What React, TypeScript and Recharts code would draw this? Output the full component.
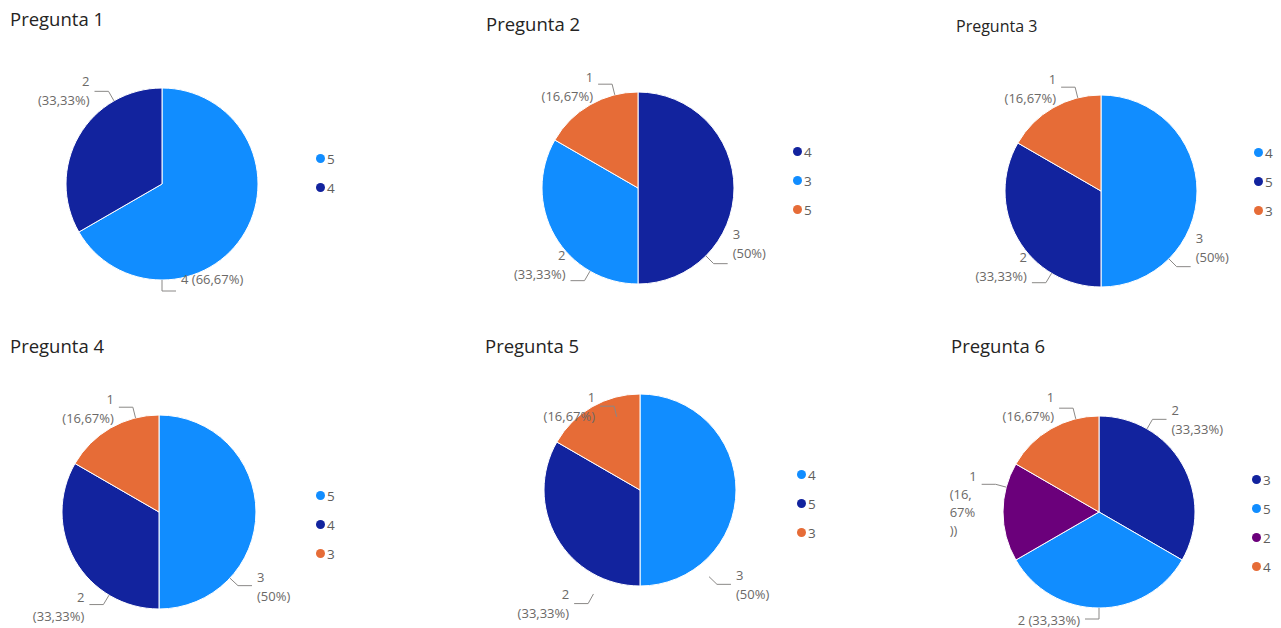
import React from 'react'
import { PieChart, Pie, Cell } from 'recharts'

// survey answers: category (legend name) and count per question
const q1Names = ['5', '4']
const q1Values = [4, 2]
const q2Names = ['4', '3', '5']
const q2Values = [3, 2, 1]
const q3Names = ['4', '5', '3']
const q3Values = [3, 2, 1]
const q4Names = ['5', '4', '3']
const q4Values = [3, 2, 1]
const q5Names = ['4', '5', '3']
const q5Values = [3, 2, 1]
const q6Names = ['3', '5', '2', '4']
const q6Values = [2, 2, 1, 1]

const BLUE = '#118DFF'
const NAVY = '#12239E'
const ORANGE = '#E66C37'
const PURPLE = '#6B007B'
const FONT = '"Open Sans", "Noto Sans", sans-serif'

type LabelPos = { a: number; side: 1 | -1; dy: number; wrap: 'one' | 'two' | 'narrow' }
type Panel = {
  title: string
  names: string[]
  values: number[]
  colors: string[]
  left: number
  top: number
  titleX: number
  titleY: number
  titleSize: number
  cx: number
  cy: number
  r: number
  legendX: number
  legendY: number
  labelShift: number
  labels: LabelPos[]
}

const panels: Panel[] = [
  {
    title: 'Pregunta 1', names: q1Names, values: q1Values, colors: [BLUE, NAVY],
    left: 0, top: 0, titleX: 10, titleY: 9.5, titleSize: 18.5, cx: 162, cy: 184, r: 96,
    legendX: 316, legendY: 144, labelShift: 0,
    labels: [
      { a: 180, side: 1, dy: -12, wrap: 'one' },
      { a: 330, side: -1, dy: 0, wrap: 'two' },
    ],
  },
  {
    title: 'Pregunta 2', names: q2Names, values: q2Values, colors: [NAVY, BLUE, ORANGE],
    left: 470, top: 0, titleX: 16, titleY: 14.5, titleSize: 18.5, cx: 168, cy: 188, r: 96,
    legendX: 323, legendY: 137, labelShift: 0,
    labels: [
      { a: 135, side: 1, dy: -20, wrap: 'two' },
      { a: 210, side: -1, dy: -16, wrap: 'two' },
      { a: 346, side: -1, dy: 3, wrap: 'two' },
    ],
  },
  {
    title: 'Pregunta 3', names: q3Names, values: q3Values, colors: [BLUE, NAVY, ORANGE],
    left: 940, top: 0, titleX: 16, titleY: 17.5, titleSize: 16, cx: 161, cy: 191, r: 96,
    legendX: 314, legendY: 138, labelShift: 0,
    labels: [
      { a: 135, side: 1, dy: -19, wrap: 'two' },
      { a: 211, side: -1, dy: -16, wrap: 'two' },
      { a: 346, side: -1, dy: 2, wrap: 'two' },
    ],
  },
  {
    title: 'Pregunta 4', names: q4Names, values: q4Values, colors: [BLUE, NAVY, ORANGE],
    left: 0, top: 320, titleX: 10, titleY: 16.5, titleSize: 18.5, cx: 159, cy: 192, r: 97,
    legendX: 316, legendY: 161, labelShift: 0,
    labels: [
      { a: 133, side: 1, dy: 1, wrap: 'two' },
      { a: 211, side: -1, dy: 2, wrap: 'two' },
      { a: 346, side: -1, dy: 2, wrap: 'two' },
    ],
  },
  {
    title: 'Pregunta 5', names: q5Names, values: q5Values, colors: [BLUE, NAVY, ORANGE],
    left: 470, top: 320, titleX: 15, titleY: 16.5, titleSize: 18.5, cx: 170, cy: 170, r: 96,
    legendX: 327, legendY: 140, labelShift: 20,
    labels: [
      { a: 134, side: 1, dy: 1, wrap: 'two' },
      { a: 209, side: -1, dy: 0, wrap: 'two' },
      { a: 346, side: -1, dy: 1, wrap: 'two' },
    ],
  },
  {
    title: 'Pregunta 6', names: q6Names, values: q6Values, colors: [NAVY, BLUE, PURPLE, ORANGE],
    left: 940, top: 320, titleX: 11, titleY: 16.5, titleSize: 18.5, cx: 159, cy: 192, r: 96,
    legendX: 312, legendY: 145, labelShift: 0,
    labels: [
      { a: 30, side: 1, dy: 1, wrap: 'two' },
      { a: 180, side: -1, dy: 1, wrap: 'one' },
      { a: 285, side: -1, dy: 19, wrap: 'narrow' },
      { a: 346, side: -1, dy: -1, wrap: 'two' },
    ],
  },
]

const fmtPct = (p: number) => (p * 100).toFixed(2).replace(/\.00$/, '').replace('.', ',') + '%'

const makeLabel = (panel: Panel) => (props: any) => {
  const { cx, cy, outerRadius, index, value, percent } = props
  const lp = panel.labels[index]
  if (!lp) return null
  const ccy = cy + panel.labelShift
  const rad = (lp.a * Math.PI) / 180
  const x0 = cx + outerRadius * Math.sin(rad)
  const y0 = ccy - outerRadius * Math.cos(rad)
  const x1 = cx + (outerRadius + 11) * Math.sin(rad)
  const y1 = ccy - (outerRadius + 11) * Math.cos(rad)
  const x2 = x1 + lp.side * 14
  const pct = fmtPct(percent)
  let lines: string[]
  if (lp.wrap === 'one') lines = [`${value} (${pct})`]
  else if (lp.wrap === 'two') lines = [`${value}`, `(${pct})`]
  else {
    const [a, b] = pct.split(',')
    lines = [`${value}`, `(${a},`, b, '))']
  }
  const lh = lines.length > 2 ? 18 : 19
  const mid = y1 + lp.dy
  const startY = mid - ((lines.length - 1) * lh) / 2
  const tx = x2 + lp.side * 5
  const anchor = lp.side > 0 ? 'start' : 'end'
  return (
    <g key={`lbl-${index}`}>
      <polyline points={`${x0},${y0} ${x1},${y1} ${x2},${y1}`} fill="none" stroke="#8a8886" strokeWidth={1} />
      {lines.map((t, i) => {
        // the squeezed label keeps its wrapped lines flush left under the value
        const narrowBody = lp.wrap === 'narrow' && i > 0
        return (
          <text
            key={i}
            x={narrowBody ? tx - 27 : tx}
            y={startY + i * lh}
            dy="0.35em"
            textAnchor={narrowBody ? 'start' : anchor}
            fontFamily={FONT}
            fontSize={13}
            fill="#6b6967"
          >
            {t}
          </text>
        )
      })}
    </g>
  )
}

const QuestionPie = ({ panel }: { panel: Panel }) => {
  const data = panel.names.map((n, i) => ({ name: n, value: panel.values[i] }))
  return (
    <div style={{ position: 'absolute', left: panel.left, top: panel.top, width: 350, height: 308 }}>
      <div style={{ position: 'absolute', left: panel.titleX, top: panel.titleY, fontFamily: FONT, fontSize: panel.titleSize, lineHeight: 1, color: '#252423', whiteSpace: 'nowrap' }}>
        {panel.title}
      </div>
      <PieChart width={350} height={308} margin={{ top: 0, right: 0, bottom: 0, left: 0 }} style={{ position: 'absolute', left: 0, top: 0 }}>
        <Pie
          data={data}
          dataKey="value"
          nameKey="name"
          cx={panel.cx}
          cy={panel.cy}
          outerRadius={panel.r}
          startAngle={90}
          endAngle={-270}
          stroke="#ffffff"
          strokeWidth={1}
          label={makeLabel(panel)}
          labelLine={false}
          isAnimationActive={false}
        >
          {data.map((d, i) => (
            <Cell key={d.name} fill={panel.colors[i]} />
          ))}
        </Pie>
      </PieChart>
      <div style={{ position: 'absolute', left: panel.legendX, top: panel.legendY, fontFamily: FONT, fontSize: 13.5, color: '#605E5C' }}>
        {panel.names.map((n, i) => (
          <div key={n} style={{ height: 29, display: 'flex', alignItems: 'center' }}>
            <span style={{ width: 9, height: 9, borderRadius: '50%', background: panel.colors[i], display: 'inline-block', marginRight: 2 }} />
            <span>{n}</span>
          </div>
        ))}
      </div>
    </div>
  )
}

export default function App() {
  return (
    <div style={{ position: 'absolute', left: 0, top: 0, width: 1281, height: 628, background: '#ffffff', overflow: 'hidden' }}>
      {panels.map((p) => (
        <QuestionPie key={p.title} panel={p} />
      ))}
    </div>
  )
}
